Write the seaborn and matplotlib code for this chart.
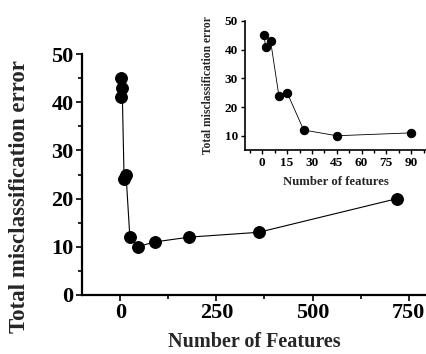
import matplotlib
matplotlib.use('Agg')
import matplotlib.pyplot as plt
from matplotlib.ticker import MultipleLocator
import seaborn as sns
import pandas as pd

# data
n_features = [1, 2, 5, 10, 15, 25, 45, 90, 180, 360, 720]
error = [45, 41, 43, 24, 25, 12, 10, 11, 12, 13, 20]
inset_features = [1, 2, 5, 10, 15, 25, 45, 90]
inset_error = [45, 41, 43, 24, 25, 12, 10, 11]

sns.set_style('ticks')
plt.rcParams['font.family'] = ['Liberation Serif', 'DejaVu Serif']
plt.rcParams['font.weight'] = 'bold'

df = pd.DataFrame({'x': n_features, 'y': error})
df_in = pd.DataFrame({'x': inset_features, 'y': inset_error})

fig = plt.figure(figsize=(4.26, 3.54), dpi=100)
ax = fig.add_axes([0.192, 0.167, 0.808, 0.68])
sns.lineplot(data=df, x='x', y='y', ax=ax, color='black', lw=0.8,
             marker='o', markersize=8.5, markeredgecolor='black', sort=False)
ax.set_xlim(-100, 795)
ax.set_ylim(0, 50)
ax.set_xticks([0, 250, 500, 750])
ax.set_yticks([0, 10, 20, 30, 40, 50])
ax.xaxis.set_minor_locator(MultipleLocator(125))
ax.yaxis.set_minor_locator(MultipleLocator(5))
ax.tick_params(which='both', direction='out', width=1.2, colors='black',
               labelsize=16, pad=2)
ax.tick_params(which='major', length=4)
ax.tick_params(which='minor', length=3)
for lab in ax.get_xticklabels() + ax.get_yticklabels():
    lab.set_fontweight('bold')
ax.set_xlabel('Number of Features', fontsize=14.5, fontweight='bold')
ax.set_ylabel('Total misclassification error', fontsize=16.5, fontweight='bold')
ax.xaxis.set_label_coords(0.5, -0.155)
ax.yaxis.set_label_coords(-0.15, 0.41)
for s in ['top', 'right']:
    ax.spines[s].set_visible(False)
for s in ['left', 'bottom']:
    ax.spines[s].set_linewidth(1.6)
    ax.spines[s].set_color('black')

# inset
ins = fig.add_axes([0.575, 0.576, 0.425, 0.365])
sns.lineplot(data=df_in, x='x', y='y', ax=ins, color='black', lw=0.6,
             marker='o', markersize=6, markeredgecolor='black', sort=False)
ins.set_xlim(-10.5, 99)
ins.set_ylim(5, 50)
ins.set_xticks([0, 15, 30, 45, 60, 75, 90])
ins.set_yticks([10, 20, 30, 40, 50])
ins.xaxis.set_minor_locator(MultipleLocator(7.5))
ins.tick_params(which='both', direction='out', width=1.0, colors='black',
                labelsize=9.5, pad=2)
ins.tick_params(which='major', length=3)
ins.tick_params(which='minor', length=2)
for lab in ins.get_xticklabels() + ins.get_yticklabels():
    lab.set_fontweight('bold')
ins.set_xlabel('Number of features', fontsize=9.2, fontweight='bold', labelpad=5)
ins.set_ylabel('Total misclassification error', fontsize=8.3, fontweight='bold',
               labelpad=8)
for s in ['top', 'right']:
    ins.spines[s].set_visible(False)
for s in ['left', 'bottom']:
    ins.spines[s].set_linewidth(1.2)
    ins.spines[s].set_color('black')

fig.savefig('out.png', dpi=100)
